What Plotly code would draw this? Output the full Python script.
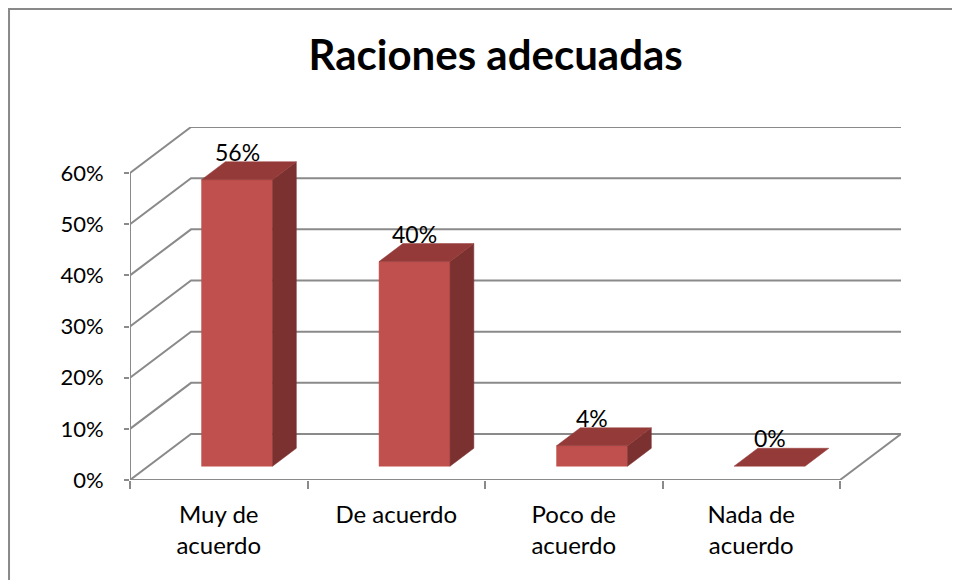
import plotly.graph_objects as go

# ---- data ----
categories = ["Muy de<br>acuerdo", "De acuerdo", "Poco de<br>acuerdo", "Nada de<br>acuerdo"]
values = [0.56, 0.40, 0.04, 0.00]
value_labels = ["56%", "40%", "4%", "0%"]
tick_values = [0.0, 0.1, 0.2, 0.3, 0.4, 0.5, 0.6]
tick_labels = ["0%", "10%", "20%", "30%", "40%", "50%", "60%"]
title_text = "Raciones adecuadas"

# ---- oblique projection (style constants) ----
DX = 0.3437   # depth offset in category units
DY = 0.0899   # depth offset in value units
F0, F1 = 0.30, 0.69   # bar front / back depth fraction
BW = 0.40             # bar width (category units)
N = len(categories)
YMAX = max(tick_values)

GRID = "#8a8a8a"
FRONT = "#C0504D"
SIDE = "#7B3130"
TOP = "#943B39"
FONT = "Lato"

fig = go.Figure()

# gridlines: left wall diagonals + back wall horizontals
gx, gy = [], []
for v in tick_values:
    gx += [0, DX, N + DX, None]
    gy += [v, v + DY, v + DY, None]
# floor front edge and right edge
gx += [0, N, N + DX, None]
gy += [0, 0, DY, None]
# front vertical axis line
gx += [0, 0, None]
gy += [0, YMAX, None]
fig.add_trace(go.Scatter(x=gx, y=gy, mode="lines", line=dict(color=GRID, width=2),
                         hoverinfo="skip", showlegend=False))

# 3D bars
for i, v in enumerate(values):
    xl = i + 0.5 - BW / 2
    xr = i + 0.5 + BW / 2
    if v > 0:
        # front face
        fig.add_trace(go.Scatter(
            x=[xl + F0 * DX, xr + F0 * DX, xr + F0 * DX, xl + F0 * DX, xl + F0 * DX],
            y=[F0 * DY, F0 * DY, v + F0 * DY, v + F0 * DY, F0 * DY],
            fill="toself", fillcolor=FRONT, mode="lines", line=dict(color=FRONT, width=0.5),
            hoverinfo="skip", showlegend=False))
        # side face
        fig.add_trace(go.Scatter(
            x=[xr + F0 * DX, xr + F1 * DX, xr + F1 * DX, xr + F0 * DX, xr + F0 * DX],
            y=[F0 * DY, F1 * DY, v + F1 * DY, v + F0 * DY, F0 * DY],
            fill="toself", fillcolor=SIDE, mode="lines", line=dict(color=SIDE, width=0.5),
            hoverinfo="skip", showlegend=False))
    # top face
    fig.add_trace(go.Scatter(
        x=[xl + F0 * DX, xr + F0 * DX, xr + F1 * DX, xl + F1 * DX, xl + F0 * DX],
        y=[v + F0 * DY, v + F0 * DY, v + F1 * DY, v + F1 * DY, v + F0 * DY],
        fill="toself", fillcolor=TOP, mode="lines", line=dict(color=TOP, width=0.5),
        hoverinfo="skip", showlegend=False))

# data labels
annotations = []
for i, (v, t) in enumerate(zip(values, value_labels)):
    annotations.append(dict(x=i + 0.5 + F0 * DX, y=v + F1 * DY, xref="x", yref="y",
                            text=t, showarrow=False, xanchor="center", yanchor="bottom",
                            yshift=-6, font=dict(family=FONT, size=23, color="#000000")))

fig.update_layout(
    width=960, height=580,
    margin=dict(l=122, r=67, t=119, b=108),
    paper_bgcolor="white", plot_bgcolor="white",
    font=dict(family=FONT, size=22, color="#000000"),
    title=dict(text="<b>" + title_text + "</b>", x=0.508, xanchor="center",
               y=0.919, yanchor="middle", xref="container", yref="container",
               font=dict(family=FONT, size=42, color="#000000")),
    xaxis=dict(range=[0, N + DX], tickvals=[i + 0.5 for i in range(N)], ticktext=categories,
               ticks="", showgrid=False, zeroline=False, showline=False,
               tickfont=dict(family=FONT, size=24), ticklabelstandoff=18,
               minor=dict(tickvals=list(range(N + 1)), ticks="outside", ticklen=8,
                          tickcolor=GRID, tickwidth=2, showgrid=False)),
    yaxis=dict(range=[0, YMAX + DY], tickvals=tick_values, ticktext=tick_labels,
               ticks="outside", ticklen=5, tickcolor=GRID, tickwidth=2,
               showgrid=False, zeroline=False, showline=False,
               tickfont=dict(family=FONT, size=22), ticklabelstandoff=16),
    annotations=annotations,
    shapes=[dict(type="rect", xref="paper", yref="paper",
                 x0=-0.1569, y0=-0.5, x1=1.2, y1=1.3343,
                 line=dict(color="#898989", width=2), fillcolor="rgba(0,0,0,0)", layer="below")],
)

fig.write_html("out.html")
